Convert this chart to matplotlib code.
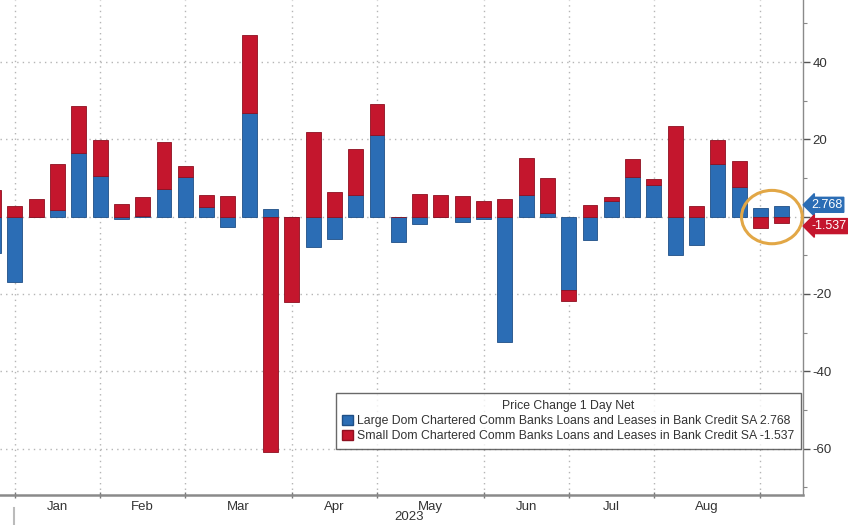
import numpy as np
import matplotlib
matplotlib.use("Agg")
import matplotlib.pyplot as plt
from matplotlib.patches import Patch, Ellipse
from matplotlib.transforms import blended_transform_factory
from matplotlib.lines import Line2D

plt.rcParams['font.family'] = ['Liberation Sans', 'DejaVu Sans']

# Weekly observations (Wednesdays), Dec 28 2022 .. Sep 13 2023
weeks = ["2022-12-28",
         "2023-01-04", "2023-01-11", "2023-01-18", "2023-01-25",
         "2023-02-01", "2023-02-08", "2023-02-15", "2023-02-22",
         "2023-03-01", "2023-03-08", "2023-03-15", "2023-03-22", "2023-03-29",
         "2023-04-05", "2023-04-12", "2023-04-19", "2023-04-26",
         "2023-05-03", "2023-05-10", "2023-05-17", "2023-05-24", "2023-05-31",
         "2023-06-07", "2023-06-14", "2023-06-21", "2023-06-28",
         "2023-07-05", "2023-07-12", "2023-07-19", "2023-07-26",
         "2023-08-02", "2023-08-09", "2023-08-16", "2023-08-23", "2023-08-30",
         "2023-09-06", "2023-09-13"]

large = [-9.5,
         -16.8, 0.0, 1.6, 16.6,
         10.6, -0.5, 0.2, 7.1,
         10.3, 2.4, -2.6, 26.9, 2.0,
         0.0, -7.9, -5.9, 5.6,
         21.1, -6.6, -1.8, 0.0, -1.5,
         -0.6, -32.5, 5.6, 0.9,
         -19.0, -6.0, 4.1, 10.2,
         8.2, -9.9, -7.4, 13.6, 7.8,
         2.2, 2.768]

small = [6.8,
         2.8, 4.5, 12.0, 11.9,
         9.2, 3.3, 4.9, 12.1,
         2.7, 3.3, 5.4, 20.1, -60.9,
         -22.1, 21.9, 6.3, 11.8,
         8.1, 0.0, 5.9, 5.6, 5.4,
         4.1, 4.7, 9.7, 9.0,
         -2.8, 3.1, 0.9, 4.6,
         1.6, 23.5, 2.7, 6.2, 6.5,
         -3.0, -1.537]

month_labels = ["Jan", "Feb", "Mar", "Apr", "May", "Jun", "Jul", "Aug"]
y_ticks = [-60, -40, -20, 0, 20, 40]
y_ticklabels = ["-60", "-40", "-20", "", "20", "40"]

large_label = "Large Dom Chartered Comm Banks Loans and Leases in Bank Credit SA 2.768"
small_label = "Small Dom Chartered Comm Banks Loans and Leases in Bank Credit SA -1.537"
legend_title = "Price Change 1 Day Net"

BLUE = "#2B6DB5"
RED = "#C4162D"

large = np.array(large)
small = np.array(small)
x = np.arange(len(weeks)) - 1  # Jan 4 2023 -> 0

# month starts: index of first week of each month
month_idx = []
prev = None
for i, w in enumerate(weeks):
    m = w[:7]
    if m != prev:
        month_idx.append(x[i])
        prev = m
month_idx = month_idx[1:]  # skip Dec 2022 (Jan..Sep starts)

fig = plt.figure(figsize=(8.48, 5.25), dpi=100)
ax = fig.add_axes([0, 30 / 525, 803 / 848, 495 / 525])

red_base = np.where(np.sign(small) == np.sign(large), large, 0.0)
ax.bar(x, large, width=0.7, color=BLUE, edgecolor="#1F4F86", linewidth=0.6, zorder=3)
ax.bar(x, small, bottom=red_base, width=0.7, color=RED, edgecolor="#8E1020",
       linewidth=0.6, zorder=3)

ax.set_xlim(-0.70, 37.0)
ax.set_ylim(-72.0, 56.05)

# gridlines
for yv in y_ticks:
    ax.axhline(yv, color="#B5B5B5", lw=1.0, ls=(0, (1, 3)), zorder=1)
for xv in month_idx:
    ax.axvline(xv, color="#B5B5B5", lw=1.0, ls=(0, (1, 3)), zorder=1)

# spines
for s in ["top", "left"]:
    ax.spines[s].set_visible(False)
ax.spines["bottom"].set_color("#8A8A8A")
ax.spines["bottom"].set_linewidth(1.8)
ax.spines["right"].set_color("#8A8A8A")
ax.spines["right"].set_linewidth(1.0)

# y axis on the right
ax.yaxis.tick_right()
ax.set_yticks(y_ticks)
ax.set_yticklabels(y_ticklabels)
ax.set_yticks(np.arange(-70, 56, 10), minor=True)
ax.tick_params(axis="y", which="major", direction="out", length=5, width=1,
               color="#555555", labelsize=9.5, labelcolor="#333333", pad=2)
ax.tick_params(axis="y", which="minor", direction="out", length=3, width=0.8,
               color="#888888")

# x axis: ticks at month starts, labels centered between
ax.set_xticks(month_idx)
ax.set_xticklabels([])
ax.tick_params(axis="x", which="major", direction="inout", length=5, width=1,
               color="#777777")
mid = [(month_idx[i] + month_idx[i + 1]) / 2 for i in range(len(month_labels))]
ax.set_xticks(mid, minor=True)
ax.set_xticklabels(month_labels, minor=True)
ax.tick_params(axis="x", which="minor", length=0, labelsize=9.5,
               labelcolor="#333333", pad=4)

# year label
fig.text(409 / 848, 1 - 517 / 525, "2023", ha="center", va="center",
         fontsize=9.5, color="#333333")
fig.add_artist(Line2D([14 / 848, 14 / 848], [0, 1 - 508 / 525],
                      color="#BBBBBB", lw=1.5))

# value tags
tr = blended_transform_factory(ax.transAxes, ax.transData)
ax.text(1.01, large[-1] + 0.3, f"{large[-1]:.3f}", transform=tr, ha="left",
        va="center", color="white", fontsize=9, zorder=6, clip_on=False,
        bbox=dict(boxstyle="larrow,pad=0.12", fc=BLUE, ec=BLUE))
ax.text(1.01, small[-1] - 0.9, f"{small[-1]:.3f}", transform=tr, ha="left",
        va="center", color="white", fontsize=9, zorder=6, clip_on=False,
        bbox=dict(boxstyle="larrow,pad=0.12", fc=RED, ec=RED))

# highlight ellipse around last two bars
ax.add_patch(Ellipse((35.54, -0.1), 2.85, 13.8, fill=False, ec="#E2A746",
                     lw=2.2, zorder=5, clip_on=False))

# legend
handles = [Patch(facecolor=BLUE, edgecolor="#1F4F86"),
           Patch(facecolor=RED, edgecolor="#8E1020")]
leg = ax.legend(handles, [large_label, small_label], title=legend_title,
                loc="lower right", bbox_to_anchor=(0.9975, 0.093),
                fontsize=8.8, title_fontsize=8.8, frameon=True, fancybox=False,
                borderpad=0.55, labelspacing=0.25, handlelength=0.9,
                handleheight=0.9, handletextpad=0.3, borderaxespad=0)
leg.get_frame().set_edgecolor("#444444")
leg.get_frame().set_linewidth(1.0)
leg.set_zorder(7)
for t in leg.get_texts():
    t.set_color("#333333")
leg.get_title().set_color("#333333")

fig.savefig("out.png", dpi=100)
